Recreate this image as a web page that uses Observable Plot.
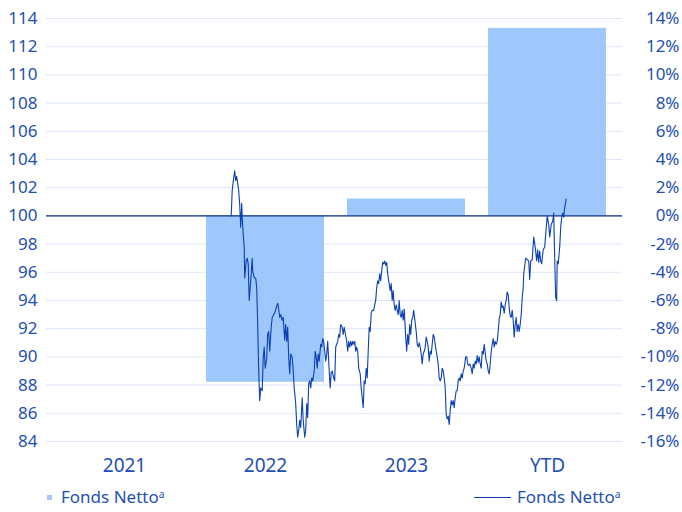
<!DOCTYPE html>
<html><head><meta charset="utf-8">
<script src="https://cdn.jsdelivr.net/npm/d3@7"></script>
<script src="https://cdn.jsdelivr.net/npm/@observablehq/plot@0.6"></script>
<style>
body{margin:0;background:#fff;font-family:"Noto Sans",sans-serif;}
#wrap{position:relative;width:682px;height:512px;overflow:hidden;}
#wrap svg{position:absolute;left:0;top:0;}
.leg{position:absolute;top:484px;font-size:17px;color:#1f4fb4;line-height:26px;white-space:nowrap;}
.leg sup{font-size:0.6em;vertical-align:0.5em;line-height:0;}
.sq{position:absolute;width:5px;height:5px;background:#9ec8fb;}
.ln{position:absolute;height:1px;background:#0b3fb2;}
</style></head><body><div id="wrap"></div>
<script>
// categories and yearly returns (%)
const years = ["2021", "2022", "2023", "YTD"];
const yearReturns = [null, -11.8, 1.2, 13.3];
// axis ticks
const pctTicks = [-16, -14, -12, -10, -8, -6, -4, -2, 0, 2, 4, 6, 8, 10, 12, 14];
// price index line: day offset from start and index value
const lineDays = [0,2,5,7,9,11,13,15,17,19,21,22,24,26,27,30,32,34,36,39,42,43,46,49,51,53,55,57,59,62,64,66,68,71,73,75,77,80,82,85,87,90,93,95,97,99,102,104,107,109,111,113,115,117,119,122,124,126,129,131,133,135,137,139,142,144,147,149,151,153,155,157,159,161,163,166,168,170,172,174,176,179,181,183,185,187,189,191,193,196,198,200,202,205,207,209,211,213,215,217,219,222,224,226,229,231,233,235,237,239,241,243,245,247,249,251,253,255,258,260,262,264,266,268,270,272,274,276,278,280,282,285,287,289,291,293,295,297,299,301,303,305,307,309,311,313,315,318,320,322,324,326,328,330,332,334,336,338,340,342,344,346,349,351,353,355,357,359,361,363,365,367,370,372,374,376,378,380,382,384,386,388,390,392,394,396,398,400,402,404,406,408,410,412,414,416,418,420,422,424,426,428,430,432,434,436,438,440,442,444,446,448,450,452,454,456,458,460,462,464,466,469,471,473,475,477,480,482,484,486,488,490,492,494,496,498,500,502,504,506,508,510,512,514,516,518,520,522,524,526,528,530,532,534,536,538,540,542,544,546,548,550,552,554,556,558,560,562,564,566,568,570,572,574,576,578,580,582,584,585,589,592,595,597,599,602,605,608,611,613,615,617,619,621,624,627,629,632,635,637,640,643,645,647,649,651,652,654,657,659,661,663,665,667,670];
const linePrice = [100.0,101.8,102.7,103.2,102.5,102.8,102.3,101.8,100.8,99.2,100.9,99.9,98.7,97.8,95.6,96.8,97.0,96.6,94.0,95.4,97.0,96.1,95.6,95.6,94.9,92.3,89.0,86.9,87.8,87.6,89.9,90.7,89.2,89.9,91.6,91.8,90.4,92.1,92.8,93.0,93.1,93.5,93.8,93.4,92.8,93.0,92.6,92.8,91.2,92.3,91.1,92.1,90.0,88.8,90.2,90.0,89.0,87.8,86.7,85.2,84.3,84.8,85.5,85.0,87.1,85.5,84.3,84.8,86.7,85.7,88.1,88.3,87.8,88.5,88.3,89.0,90.4,90.0,89.2,90.2,89.7,90.9,90.7,91.3,91.1,90.4,89.7,90.2,91.1,89.0,87.8,88.9,89.0,88.5,88.3,90.7,90.9,91.1,91.6,91.4,92.3,92.1,91.6,92.1,91.5,91.1,90.4,91.1,90.7,91.1,90.8,91.1,90.9,91.1,90.4,90.7,90.4,89.2,88.8,87.8,87.1,86.4,88.3,88.1,89.2,88.5,90.4,92.1,91.8,93.1,93.3,93.3,93.7,94.0,94.9,95.4,95.2,95.9,95.4,96.1,96.7,96.6,96.8,96.5,96.7,95.9,95.4,94.7,95.2,94.0,94.7,93.7,93.3,93.7,93.3,93.0,94.0,93.0,92.8,93.3,92.6,93.4,91.4,90.4,91.6,90.9,92.3,91.6,92.6,92.8,93.3,92.7,91.8,90.9,90.7,91.0,90.7,90.2,89.5,90.2,90.4,90.7,91.4,91.1,90.7,89.7,90.4,90.2,90.9,91.6,91.4,90.9,90.4,90.0,89.5,88.5,88.3,88.5,89.2,89.0,88.5,87.8,85.9,85.6,85.8,85.2,86.2,86.9,86.6,86.9,86.4,87.1,87.6,87.6,88.3,88.5,88.3,88.8,88.5,89.0,89.2,90.0,90.0,89.5,89.4,89.5,89.2,88.8,89.5,89.2,89.7,89.5,90.1,89.6,90.0,89.5,89.2,90.4,90.2,90.9,90.3,89.7,89.5,89.0,88.8,89.5,90.4,90.9,91.3,90.7,91.1,90.9,91.1,91.8,92.7,93.0,93.9,93.5,93.6,93.1,93.7,94.0,94.6,94.4,93.5,92.9,92.8,93.3,92.6,91.4,92.3,92.8,91.8,92.3,91.8,92.3,93.0,94.2,94.9,95.9,97.0,96.9,96.8,95.5,96.8,96.9,98.5,97.8,96.8,97.6,96.7,97.5,96.8,96.6,97.6,97.8,98.7,100.0,99.4,98.5,99.4,99.6,100.2,97.0,94.2,94.0,96.8,96.6,97.8,99.2,99.9,100.2,99.9,100.6,101.2];

const textColor = "#1f4fb4";
const barColor = "#9ec8fb";
const lineColor = "#0b3fb2";
const font = '"Noto Sans", sans-serif';

const bars = years.map((y, i) => ({year: y, ret: yearReturns[i]})).filter(d => d.ret !== null);

const main = Plot.plot({
  width: 682, height: 480,
  marginTop: 18, marginBottom: 39, marginLeft: 46, marginRight: 60,
  style: {fontFamily: font, fontSize: "17px", color: textColor, background: "transparent"},
  x: {type: "band", domain: years, paddingInner: 0.166, paddingOuter: 0.083, insetLeft: 6, insetRight: 4},
  y: {domain: [-16, 14]},
  marks: [
    Plot.gridY(pctTicks, {stroke: "#dce8f9", strokeOpacity: 1}),
    Plot.barY(bars, {x: "year", y: "ret", fill: barColor}),
    Plot.ruleY([0], {stroke: "#0d2f86", strokeWidth: 1.2}),
    Plot.axisY(pctTicks, {anchor: "left", tickSize: 0, tickPadding: 9, label: null, tickFormat: d => String(d + 100), fill: textColor}),
    Plot.axisY(pctTicks, {anchor: "right", tickSize: 0, tickPadding: 57, textAnchor: "end", label: null, tickFormat: d => `${d}%`, fill: textColor}),
    Plot.axisX({tickSize: 0, tickPadding: 17, label: null, fill: textColor, fontSize: 19})
  ]
});

const overlay = Plot.plot({
  width: 682, height: 480, margin: 0,
  style: {background: "transparent"},
  x: {domain: [0, 670], range: [230.7, 565.7], axis: null},
  y: {domain: [84, 114], range: [441, 18], axis: null},
  marks: [
    Plot.line(lineDays, {x: lineDays, y: linePrice, stroke: lineColor, strokeWidth: 1.1})
  ]
});

const wrap = document.getElementById("wrap");
wrap.appendChild(main);
wrap.appendChild(overlay);

const legendHtml = `
<div class="sq" style="left:47px;top:495px"></div>
<div class="leg" style="left:61px">Fonds Netto<sup>a</sup></div>
<div class="ln" style="left:474px;width:37px;top:497px"></div>
<div class="leg" style="left:517px">Fonds Netto<sup>a</sup></div>`;
wrap.insertAdjacentHTML("beforeend", legendHtml);
</script>
</body></html>
